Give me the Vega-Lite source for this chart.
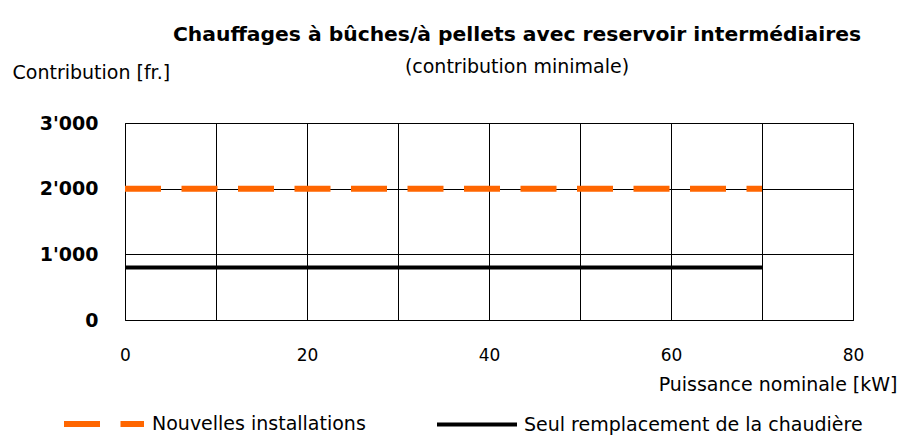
{
  "$schema": "https://vega.github.io/schema/vega-lite/v6.json",
  "width": 728,
  "height": 197,
  "autosize": {"type": "none"},
  "padding": {"left": 125, "top": 123, "right": 53, "bottom": 122},
  "background": "white",
  "title": {
    "text": "Chauffages à bûches/à pellets avec reservoir intermédiaires",
    "subtitle": "(contribution minimale)",
    "anchor": "middle",
    "dx": 28,
    "offset": -14,
    "font": "DejaVu Sans",
    "fontSize": 20.3,
    "fontWeight": "bold",
    "color": "black",
    "subtitleFont": "DejaVu Sans",
    "subtitleFontSize": 19,
    "subtitleColor": "black",
    "subtitlePadding": 13
  },
  "data": {
    "values": [
      {"kw": 0, "fr": 2000, "serie": "Nouvelles installations"},
      {"kw": 70, "fr": 2000, "serie": "Nouvelles installations"},
      {"kw": 0, "fr": 800, "serie": "Seul remplacement de la chaudière"},
      {"kw": 70, "fr": 800, "serie": "Seul remplacement de la chaudière"}
    ]
  },
  "mark": {"type": "line", "strokeCap": "butt"},
  "encoding": {
    "x": {
      "field": "kw",
      "type": "quantitative",
      "scale": {"domain": [0, 80], "nice": false},
      "axis": {
        "values": [0, 10, 20, 30, 40, 50, 60, 70, 80],
        "labelExpr": "datum.value % 20 == 0 ? datum.label : ''",
        "labelFlush": false,
        "grid": true,
        "gridColor": "black",
        "gridOpacity": 1,
        "gridWidth": 1,
        "domain": false,
        "ticks": false,
        "labelPadding": 27,
        "labelFont": "DejaVu Sans",
        "labelFontSize": 17,
        "labelColor": "black",
        "title": "Puissance nominale [kW]",
        "titleFont": "DejaVu Sans",
        "titleFontSize": 19,
        "titleFontWeight": "normal",
        "titleColor": "black",
        "titleAlign": "right",
        "titleAnchor": null,
        "titleX": 772,
        "titleY": 64,
        "titleBaseline": "middle"
      }
    },
    "y": {
      "field": "fr",
      "type": "quantitative",
      "scale": {"domain": [0, 3000], "nice": false},
      "axis": {
        "values": [0, 1000, 2000, 3000],
        "labelExpr": "replace(format(datum.value, ','), ',', \"'\")",
        "grid": true,
        "gridColor": "black",
        "gridOpacity": 1,
        "gridWidth": 1,
        "domain": false,
        "ticks": false,
        "labelPadding": 27,
        "labelFont": "DejaVu Sans",
        "labelFontSize": 19,
        "labelFontWeight": "bold",
        "labelColor": "black",
        "title": "Contribution [fr.]",
        "titleFont": "DejaVu Sans",
        "titleFontSize": 19,
        "titleFontWeight": "normal",
        "titleColor": "black",
        "titleAngle": 0,
        "titleAlign": "left",
        "titleBaseline": "middle",
        "titleAnchor": null,
        "titleX": -113,
        "titleY": -51
      }
    },
    "color": {
      "field": "serie",
      "type": "nominal",
      "scale": {
        "domain": ["Nouvelles installations", "Seul remplacement de la chaudière"],
        "range": ["#ff6600", "black"]
      },
      "legend": {
        "title": null,
        "orient": "none",
        "direction": "horizontal",
        "legendX": -64,
        "legendY": 258,
        "symbolType": "stroke",
        "symbolSize": 6400,
        "labelFont": "DejaVu Sans",
        "labelFontSize": 19,
        "labelColor": "black",
        "labelOffset": 5,
        "labelLimit": 0,
        "columnPadding": 63
      }
    },
    "strokeDash": {
      "field": "serie",
      "type": "nominal",
      "scale": {
        "domain": ["Nouvelles installations", "Seul remplacement de la chaudière"],
        "range": [[36, 20.5], [1, 0]]
      },
      "legend": null
    },
    "strokeWidth": {
      "field": "serie",
      "type": "nominal",
      "scale": {
        "domain": ["Nouvelles installations", "Seul remplacement de la chaudière"],
        "range": [6, 4]
      },
      "legend": null
    }
  },
  "config": {
    "view": {"stroke": "black", "strokeWidth": 1}
  }
}
